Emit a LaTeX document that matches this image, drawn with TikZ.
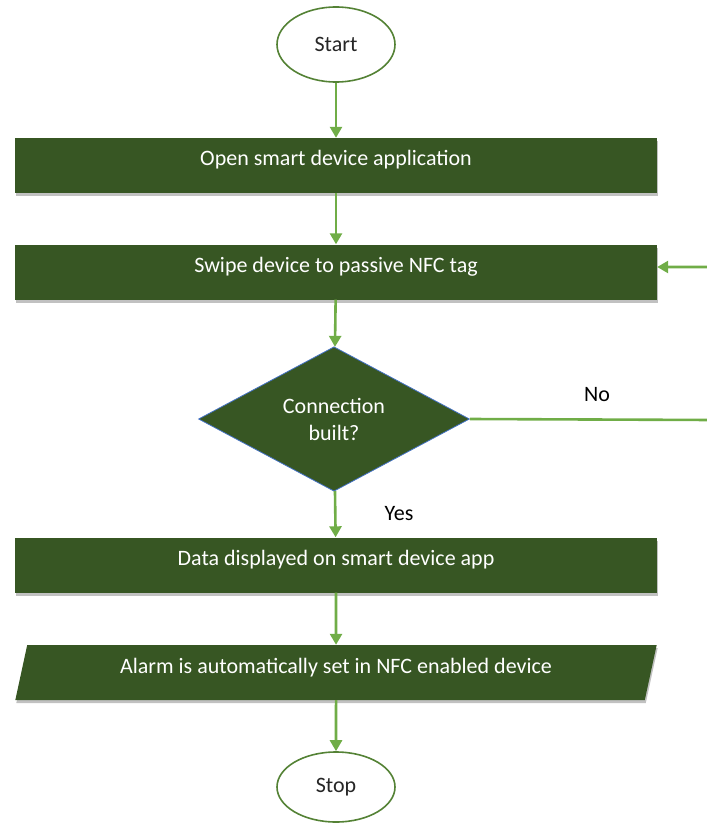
\documentclass[tikz,border=0pt]{standalone}
\usepackage{fontspec}
\setmainfont{Carlito}
\usetikzlibrary{shapes.geometric,arrows.meta,shadows}
\definecolor{boxgreen}{HTML}{375623}
\definecolor{arrowgreen}{HTML}{70AD47}
\definecolor{ringgreen}{HTML}{548235}
\definecolor{edgeblue}{HTML}{4472C4}
\definecolor{inkgray}{HTML}{262626}

\begin{document}
\begin{tikzpicture}[x=1pt,y=-1pt,
  font=\fontsize{22}{27}\selectfont,
  terminal/.style={ellipse, draw=ringgreen, line width=1.6pt, fill=white,
    text=inkgray, inner sep=0pt, minimum width=118pt},
  boxshadow/.style={drop shadow={shadow xshift=1pt, shadow yshift=-3pt,
    opacity=0.35, fill=black!70}},
  stepbox/.style={rectangle, fill=boxgreen, text=white, inner sep=0pt,
    minimum width=642pt, minimum height=55pt, text height=16pt,
    text depth=15pt, boxshadow},
  iobox/.style={trapezium, trapezium left angle=75, trapezium right angle=105,
    trapezium stretches=true, fill=boxgreen, text=white, inner sep=0pt,
    minimum width=642pt, minimum height=55pt, text height=16pt,
    text depth=15pt, boxshadow},
  decision/.style={diamond, fill=boxgreen, draw=edgeblue, line width=0.8pt,
    text=white, inner sep=0pt, minimum width=271pt, minimum height=142pt,
    align=center},
  tag/.style={text=black, inner sep=0pt},
  flow/.style={draw=arrowgreen, line width=2.6pt,
    -{Triangle[length=11pt,width=12pt]}},
  plain/.style={draw=arrowgreen, line width=2.6pt},
]
\useasboundingbox (0,0) rectangle (706,829);

% nodes of the flow
\node[terminal, minimum height=75pt] (start) at (336,44.5) {Start};
\node[stepbox] (open) at (336,165.5) {Open smart device application};
\node[stepbox] (swipe) at (336,272) {Swipe device to passive NFC tag};
\node[decision] (dec) at (334,419) {Connection\\built?};
\node[stepbox] (show) at (336,565) {Data displayed on smart device app};
\node[iobox] (alarm) at (336,672.5) {Alarm is automatically set in NFC enabled device};
\node[terminal, minimum height=70pt] (stop) at (336,787) {Stop};

% branch labels
\node[tag] (no) at (597,395) {No};
\node[tag] (yes) at (399,514) {Yes};

% return path past the right edge
\coordinate (loopA) at (712,420);
\coordinate (loopB) at (712,267);

% connectors
\draw[flow] (start) -- (open);
\draw[flow] (open) -- (swipe);
\draw[flow] (swipe) -- (dec);
\draw[flow] (dec) -- (show);
\draw[flow] (show) -- (alarm);
\draw[flow] (alarm) -- (stop);
\draw[flow] (dec.east) -- (loopA) -- (loopB) -- (loopB -| swipe.east);
\end{tikzpicture}
\end{document}
